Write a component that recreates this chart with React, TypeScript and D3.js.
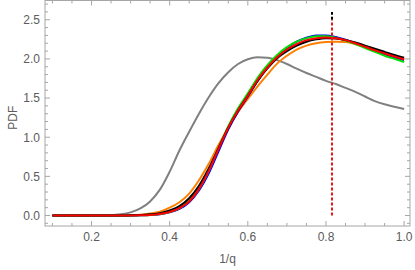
import React, { useEffect, useRef } from 'react';
import * as d3 from 'd3';

// grid of 1/q values the curves are sampled on
const qInv = [
  0.1, 0.125, 0.15, 0.175, 0.2, 0.225, 0.25, 0.275, 0.3, 0.325, 0.35, 0.375, 0.4,
  0.425, 0.45, 0.475, 0.5, 0.525, 0.55, 0.575, 0.6, 0.625, 0.65, 0.675, 0.7, 0.725,
  0.75, 0.775, 0.8, 0.825, 0.85, 0.875, 0.9, 0.925, 0.95, 0.975, 1.0,
];

const grayPdf = [
  0, 0, 0, 0, 0, 0, 0.003, 0.015, 0.04, 0.09, 0.18, 0.33, 0.56, 0.83, 1.07, 1.3, 1.51,
  1.69, 1.83, 1.935, 1.995, 2.02, 2.015, 1.985, 1.935, 1.875, 1.82, 1.77, 1.72, 1.68,
  1.63, 1.58, 1.52, 1.46, 1.42, 1.39, 1.36,
];
const orangePdf = [
  0, 0, 0, 0, 0, 0, 0, 0.002, 0.005, 0.01, 0.025, 0.05, 0.1, 0.17, 0.28, 0.45, 0.66,
  0.9, 1.12, 1.32, 1.49, 1.65, 1.8, 1.94, 2.04, 2.12, 2.17, 2.2, 2.215, 2.22, 2.215,
  2.19, 2.15, 2.11, 2.07, 2.035, 2.0,
];
const bluePdf = [
  0, 0, 0, 0, 0, 0, 0, 0, 0, 0.002, 0.005, 0.015, 0.04, 0.085, 0.17, 0.32, 0.54, 0.82,
  1.1, 1.33, 1.52, 1.72, 1.89, 2.03, 2.14, 2.22, 2.27, 2.3, 2.3, 2.28, 2.245, 2.2, 2.15,
  2.1, 2.06, 2.02, 1.985,
];
const greenPdf = [
  0, 0, 0, 0, 0, 0, 0, 0, 0, 0.003, 0.008, 0.02, 0.045, 0.095, 0.185, 0.34, 0.57, 0.86,
  1.14, 1.37, 1.56, 1.76, 1.92, 2.05, 2.15, 2.22, 2.265, 2.29, 2.29, 2.27, 2.235, 2.19,
  2.14, 2.09, 2.04, 2.0, 1.96,
];
const blackPdf = [
  0, 0, 0, 0, 0, 0, 0, 0, 0.002, 0.005, 0.015, 0.03, 0.065, 0.12, 0.22, 0.38, 0.6, 0.86,
  1.12, 1.34, 1.53, 1.72, 1.88, 2.01, 2.1, 2.17, 2.22, 2.25, 2.265, 2.26, 2.24, 2.21,
  2.17, 2.13, 2.09, 2.05, 2.015,
];
const redPdf = [
  0, 0, 0, 0, 0, 0, 0, 0, 0, 0.003, 0.008, 0.02, 0.045, 0.095, 0.18, 0.34, 0.57, 0.85,
  1.12, 1.34, 1.53, 1.73, 1.89, 2.02, 2.12, 2.19, 2.24, 2.265, 2.275, 2.265, 2.24, 2.2,
  2.155, 2.11, 2.07, 2.03, 1.995,
];

const xTicks = [0.2, 0.4, 0.6, 0.8, 1.0];
const yTicks = [0.0, 0.5, 1.0, 1.5, 2.0, 2.5];

// vertical marker
const markerX = 0.8145;
const markerBlackTop = 2.6;
const markerRedTop = 2.5;

const App = () => {
  const svgRef = useRef<SVGSVGElement>(null);

  useEffect(() => {
    const W = 415;
    const H = 270;
    const left = 45, right = 410, top = 0.5, bottom = 226;

    const svg = d3.select(svgRef.current).attr('width', W).attr('height', H);
    svg.selectAll('*').remove();

    const x = d3.scaleLinear().domain([0.081, 1.015]).range([left, right]);
    const y = d3.scaleLinear().domain([-0.134, 2.746]).range([bottom, top]);

    const font = "'Liberation Sans', Arial, sans-serif";
    const frameColor = '#a6a6a6';
    const labelColor = '#5c5c5c';

    // frame
    svg.append('rect')
      .attr('x', left).attr('y', top)
      .attr('width', right - left).attr('height', bottom - top)
      .attr('fill', 'none').attr('stroke', frameColor).attr('stroke-width', 1);

    // x ticks (bottom and top)
    const xMinor = d3.range(0.1, 1.0001, 0.05).filter(v => !xTicks.some(t => Math.abs(t - v) < 1e-6));
    const xt = svg.append('g').attr('stroke', frameColor).attr('stroke-width', 1);
    xTicks.forEach(v => {
      xt.append('line').attr('x1', x(v)).attr('x2', x(v)).attr('y1', bottom).attr('y2', bottom - 5);
      xt.append('line').attr('x1', x(v)).attr('x2', x(v)).attr('y1', top).attr('y2', top + 5);
    });
    xMinor.forEach(v => {
      xt.append('line').attr('x1', x(v)).attr('x2', x(v)).attr('y1', bottom).attr('y2', bottom - 3);
      xt.append('line').attr('x1', x(v)).attr('x2', x(v)).attr('y1', top).attr('y2', top + 3);
    });

    // y ticks (left and right)
    const yMinor = d3.range(-0.1, 2.71, 0.1).filter(v => !yTicks.some(t => Math.abs(t - v) < 1e-6));
    const yt = svg.append('g').attr('stroke', frameColor).attr('stroke-width', 1);
    yTicks.forEach(v => {
      yt.append('line').attr('x1', left).attr('x2', left + 5).attr('y1', y(v)).attr('y2', y(v));
      yt.append('line').attr('x1', right).attr('x2', right - 5).attr('y1', y(v)).attr('y2', y(v));
    });
    yMinor.forEach(v => {
      yt.append('line').attr('x1', left).attr('x2', left + 3).attr('y1', y(v)).attr('y2', y(v));
      yt.append('line').attr('x1', right).attr('x2', right - 3).attr('y1', y(v)).attr('y2', y(v));
    });

    // tick labels
    svg.selectAll('.xlab')
      .data(xTicks)
      .enter()
      .append('text')
      .attr('x', d => x(d))
      .attr('y', bottom + 15)
      .attr('text-anchor', 'middle')
      .style('font-family', font).style('font-size', '12px').style('fill', labelColor)
      .text(d => d.toFixed(1));

    svg.selectAll('.ylab')
      .data(yTicks)
      .enter()
      .append('text')
      .attr('x', left - 5)
      .attr('y', d => y(d))
      .attr('dy', '0.36em')
      .attr('text-anchor', 'end')
      .style('font-family', font).style('font-size', '12px').style('fill', labelColor)
      .text(d => d.toFixed(1));

    // axis titles
    svg.append('text')
      .attr('x', (left + right) / 2)
      .attr('y', 263)
      .attr('text-anchor', 'middle')
      .style('font-family', font).style('font-size', '12px').style('fill', labelColor)
      .text('1/q');

    svg.append('text')
      .attr('transform', `translate(17, ${y(1.25)}) rotate(-90)`)
      .attr('text-anchor', 'middle')
      .style('font-family', font).style('font-size', '12px').style('fill', labelColor)
      .text('PDF');

    // curves
    const line = d3.line<number>()
      .x((d, i) => x(qInv[i]))
      .y(d => y(d))
      .curve(d3.curveMonotoneX);

    const series: [number[], string][] = [
      [grayPdf, '#808080'],
      [orangePdf, '#ff8000'],
      [bluePdf, '#0000ff'],
      [greenPdf, '#00e000'],
      [blackPdf, '#000000'],
      [redPdf, '#ff0000'],
    ];

    series.forEach(([vals, color]) => {
      svg.append('path')
        .datum(vals)
        .attr('fill', 'none')
        .attr('stroke', color)
        .attr('stroke-width', 2)
        .attr('stroke-linejoin', 'round')
        .attr('d', line);
    });

    // dashed marker lines (snapped to whole pixels so the red fully covers the black)
    const mx = Math.round(x(markerX));
    svg.append('line')
      .attr('x1', mx).attr('x2', mx)
      .attr('y1', y(markerRedTop)).attr('y2', y(markerBlackTop))
      .attr('stroke', '#000').attr('stroke-width', 2)
      .attr('stroke-dasharray', '3,2');
    svg.append('line')
      .attr('x1', mx).attr('x2', mx)
      .attr('y1', y(0)).attr('y2', y(markerRedTop))
      .attr('stroke', '#e31a1a').attr('stroke-width', 2)
      .attr('stroke-dasharray', '3,2');
  }, []);

  return (
    <svg ref={svgRef} style={{ position: 'absolute', left: 0, top: 0 }}></svg>
  );
};

export default App;
